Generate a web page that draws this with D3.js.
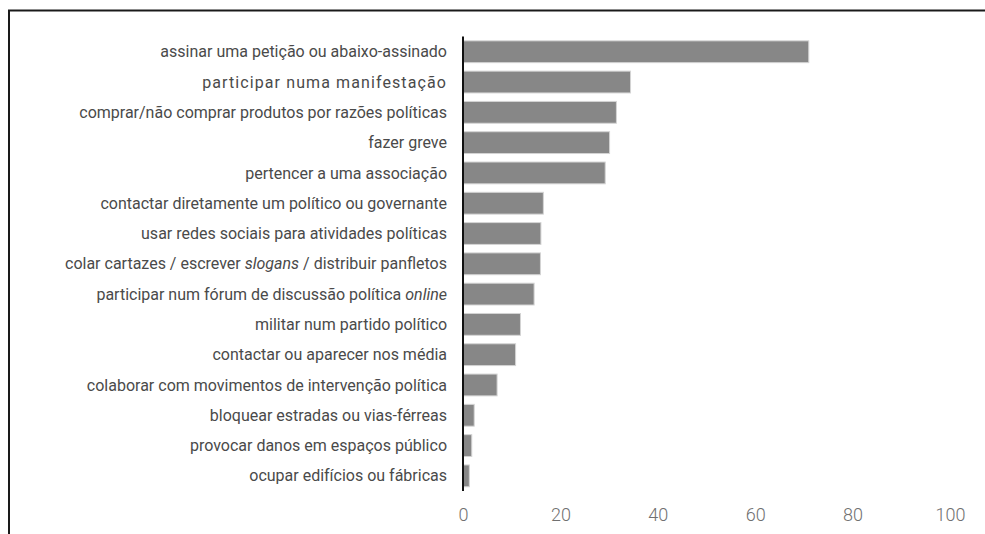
<!DOCTYPE html>
<html>
<head>
<meta charset="utf-8">
<script src="https://cdn.jsdelivr.net/npm/d3@7"></script>
<style>
  html, body { margin: 0; padding: 0; background: #fff; }
  svg { display: block; }
</style>
</head>
<body>
<svg id="chart" width="985" height="534"></svg>
<script>
// Data
const categories = [
  "assinar uma petição ou abaixo-assinado",
  "participar numa manifestação",
  "comprar/não comprar produtos por razões políticas",
  "fazer greve",
  "pertencer a uma associação",
  "contactar diretamente um político ou governante",
  "usar redes sociais para atividades políticas",
  "colar cartazes / escrever *slogans* / distribuir panfletos",
  "participar num fórum de discussão política *online*",
  "militar num partido político",
  "contactar ou aparecer nos média",
  "colaborar com movimentos de intervenção política",
  "bloquear estradas ou vias-férreas",
  "provocar danos em espaços público",
  "ocupar edifícios ou fábricas"
];
const values = [71.0, 34.4, 31.5, 30.1, 29.2, 16.5, 16.0, 15.9, 14.6, 11.8, 10.8, 7.0, 2.3, 1.8, 1.3];
const tickValues = [0, 20, 40, 60, 80, 100];

const svg = d3.select("#chart");

// frame
svg.append("rect")
  .attr("x", 9).attr("y", 10.5)
  .attr("width", 1000).attr("height", 600)
  .attr("fill", "none").attr("stroke", "#1a1a1a").attr("stroke-width", 2);

const x = d3.scaleLinear().domain([0, 100]).range([463, 950]);
const y = d3.scaleBand().domain(categories).range([36.6, 491]).paddingInner(0.28).paddingOuter(0.14);

// bars
svg.append("g").selectAll("rect")
  .data(categories)
  .join("rect")
  .attr("x", x(0))
  .attr("y", d => y(d))
  .attr("width", (d, i) => x(values[i]) - x(0))
  .attr("height", y.bandwidth())
  .attr("fill", "#878787")
  .attr("stroke", "#d4d4d4")
  .attr("stroke-width", 1);

// y axis line
svg.append("line")
  .attr("x1", x(0)).attr("x2", x(0))
  .attr("y1", y.range()[0]).attr("y2", y.range()[1])
  .attr("stroke", "#111").attr("stroke-width", 2);

// category labels
const labels = svg.append("g").selectAll("text")
  .data(categories)
  .join("text")
  .attr("x", 447)
  .attr("y", d => y(d) + y.bandwidth() / 2)
  .attr("dy", "0.35em")
  .attr("text-anchor", "end")
  .attr("font-family", "Roboto, sans-serif")
  .attr("font-size", 16)
  .attr("fill", "#4a4a4a")
  .attr("letter-spacing", (d, i) => i === 1 ? "1.1px" : null);

labels.each(function(d) {
  const t = d3.select(this);
  const parts = d.split("*");
  parts.forEach((p, k) => {
    if (!p) return;
    t.append("tspan").text(p).attr("font-style", k % 2 === 1 ? "italic" : null);
  });
});

// x axis tick labels
const xAxis = d3.axisBottom(x).tickValues(tickValues).tickSize(0).tickPadding(0);
const gx = svg.append("g").attr("transform", "translate(0,508)").call(xAxis);
gx.select(".domain").remove();
gx.selectAll("text")
  .attr("font-family", "Roboto, sans-serif")
  .attr("font-weight", 300)
  .attr("font-size", 18)
  .attr("fill", "#707070")
  .attr("dy", "0.71em");
</script>
</body>
</html>
